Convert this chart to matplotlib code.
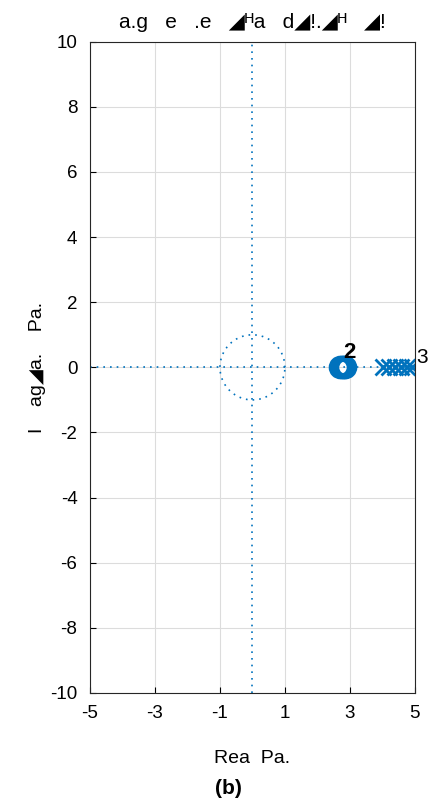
import numpy as np
import matplotlib.pyplot as plt

zeros_re = [2.7, 2.76, 2.82, 2.86]
poles_re = [4.02, 4.2, 4.4, 4.58, 4.75, 4.92]
zero_mult = "2"
pole_mult = "3"

xticks = [-5, -3, -1, 1, 3, 5]
yticks = list(range(-10, 11, 2))

plt.rcParams['font.family'] = ['Liberation Sans', 'DejaVu Sans']
plt.rcParams['axes.unicode_minus'] = False
blue = '#0072BD'

fig = plt.figure(figsize=(4.39, 8.07), dpi=100)
ax = fig.add_axes([0.205, 0.1413, 0.740, 0.807])

# unit circle and axes lines
t = np.linspace(0, 2 * np.pi, 200)
ax.plot(np.cos(t), np.sin(t), color=blue, lw=1.2, ls=(0, (1, 3)))
ax.plot([-5, 5], [0, 0], color=blue, lw=1.2, ls=(0, (1, 3)))
ax.plot([0, 0], [-10, 10], color=blue, lw=1.2, ls=(0, (1, 3)))

ax.plot(zeros_re, np.zeros(len(zeros_re)), 'o', ms=13, mfc='none',
        mec=blue, mew=4)
ax.plot(poles_re, np.zeros(len(poles_re)), 'x', ms=11, color=blue, mew=2)

ax.text(2.8, 0.12, zero_mult, fontsize=16, fontweight='bold', ha='left', va='bottom')
ax.text(5.05, 0.0, pole_mult, fontsize=15, ha='left', va='bottom', clip_on=False)

ax.set_xlim(-5, 5)
ax.set_ylim(-10, 10)
ax.set_xticks(xticks)
ax.set_yticks(yticks)
ax.grid(True, color='#dcdcdc', lw=0.8)
ax.set_axisbelow(True)
ax.tick_params(direction='in', labelsize=13.5, length=4, pad=9)
for s in ax.spines.values():
    s.set_color('#262626')

ax.set_title('a.g   e   .e   \u25e2\u1d34a   d\u25e2!.\u25e2\u1d34   \u25e2!', fontsize=15, pad=10)
ax.set_ylabel('I    ag\u25e2a.    Pa.', fontsize=14, labelpad=3)
ax.set_xlabel('Rea  Pa.', fontsize=14, labelpad=20)
fig.text(0.52, 0.016, '(b)', fontsize=15, fontweight='bold', ha='center')

fig.savefig('out.png', dpi=100)
